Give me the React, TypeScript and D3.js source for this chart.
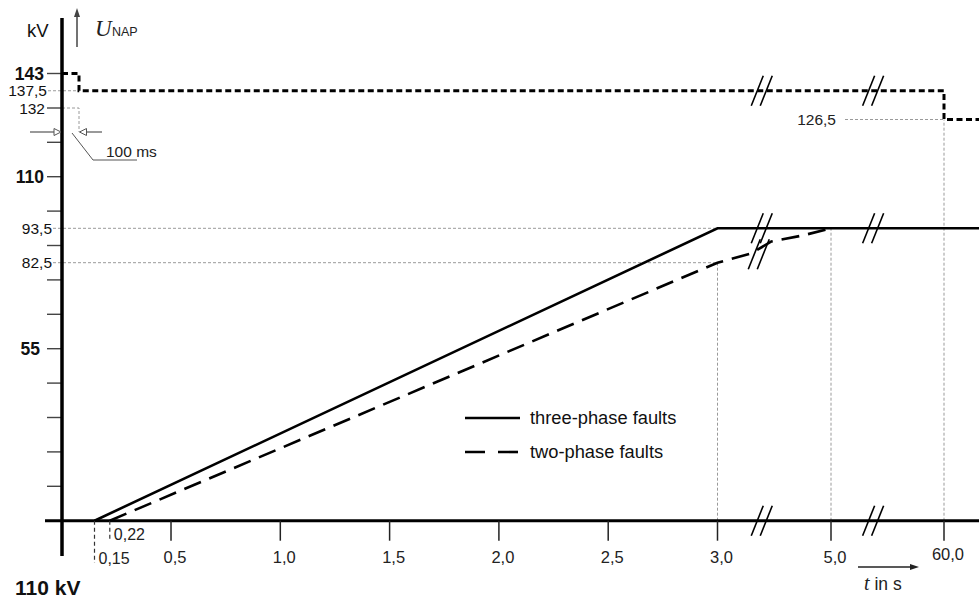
import React from "react";
import * as d3 from "d3";

const W = 979;
const H = 598;

// ---- data ----
const kvTicks = [11, 22, 33, 44, 55, 66, 77, 88, 99, 110, 121, 132, 143];
const kvLabelValues = [143, 137.5, 132, 110, 93.5, 82.5, 55];
const kvLabelTexts = ["143", "137,5", "132", "110", "93,5", "82,5", "55"];
const kvLabelBold = [true, false, false, true, false, false, true];
const timeTicks = [0.5, 1.0, 1.5, 2.0, 2.5, 3.0, 5.0, 60.0];
const timeTickLabels = ["0,5", "1,0", "1,5", "2,0", "2,5", "3,0", "5,0", "60,0"];
const startTimes = [0.15, 0.22];
const startTimeLabels = ["0,15", "0,22"];
const threePhaseT = [0.15, 3.0, 60.0];
const threePhaseU = [0, 93.5, 93.5];
const twoPhaseT = [0.22, 3.0, 3.6, 3.95, 4.5, 5.0];
const twoPhaseU = [0, 82.5, 85.5, 89.3, 91.2, 93.5];
const limitT = [0, 0.1, 0.1, 60, 60];
const limitU = [143, 143, 137.5, 137.5, 126.5];
const breakTimes = [3.78, 25.5];
const legendLabels = ["three-phase faults", "two-phase faults"];

const SANS = "'Liberation Sans', Arial, Helvetica, sans-serif";
const SERIF = "'Liberation Serif', 'Times New Roman', serif";

export default function App() {
  // schematic (piecewise) scales, as in the drawing with axis breaks
  const x = d3
    .scaleLinear()
    .domain([0, 0.1, 0.15, 3, 5, 60])
    .range([62, 79, 94.5, 717.5, 831, 944]);
  const y = d3
    .scaleLinear()
    .domain([0, 121, 126.5, 132, 143])
    .range([520.7, 142.3, 119.5, 108, 73.5]);

  const y0 = y(0);
  const x0 = x(0);

  const line = d3
    .line<[number, number]>()
    .x((d) => d[0])
    .y((d) => d[1]);

  const threePts: [number, number][] = threePhaseT.map((t, i) => [x(t), y(threePhaseU[i])]);
  threePts.push([W, y(threePhaseU[threePhaseU.length - 1])]);
  const twoPts: [number, number][] = twoPhaseT.map((t, i) => [x(t), y(twoPhaseU[i])]);
  const limitPts: [number, number][] = limitT.map((t, i) => [x(t), y(limitU[i])]);
  limitPts.push([W, y(limitU[limitU.length - 1])]);

  const twoInterp = (t: number) => {
    for (let i = 0; i < twoPhaseT.length - 1; i++) {
      if (t >= twoPhaseT[i] && t <= twoPhaseT[i + 1]) {
        const f = (t - twoPhaseT[i]) / (twoPhaseT[i + 1] - twoPhaseT[i]);
        return twoPhaseU[i] + f * (twoPhaseU[i + 1] - twoPhaseU[i]);
      }
    }
    return null;
  };

  const breakMarks: { cx: number; cy: number }[] = [];
  breakTimes.forEach((b) => {
    breakMarks.push({ cx: x(b), cy: y0 });
    breakMarks.push({ cx: x(b), cy: y(137.5) });
    breakMarks.push({ cx: x(b), cy: y(93.5) });
    const v = twoInterp(b);
    if (v !== null) breakMarks.push({ cx: x(b) - 3, cy: y(v) + 7 });
  });

  const gray = "#9a9a9a";
  const guide = { stroke: gray, strokeWidth: 1, strokeDasharray: "3,2", fill: "none" };
  const ann = "#555";
  const arrowY = y(132) + 24;

  return (
    <svg
      width={W}
      height={H}
      style={{ position: "fixed", left: 0, top: 0, background: "#fff" }}
      fontFamily={SANS}
    >
      <rect x={0} y={0} width={W} height={H} fill="#fff" />

      {/* guide lines */}
      <line x1={48} x2={x(0.1)} y1={y(137.5)} y2={y(137.5)} {...guide} />
      <polyline
        points={`${x0},${y(132)} ${x(0.1)},${y(132)} ${x(0.1)},${arrowY}`}
        {...guide}
      />
      {[93.5, 82.5].map((v) => (
        <line key={v} x1={53} x2={x(3)} y1={y(v)} y2={y(v)} {...guide} />
      ))}
      <line x1={x(3)} x2={x(3)} y1={y0} y2={y(82.5)} {...guide} />
      <line x1={x(5)} x2={x(5)} y1={y0} y2={y(93.5)} {...guide} />
      <line x1={x(60)} x2={x(60)} y1={y0} y2={y(126.5)} {...guide} />
      <line x1={845} x2={x(60)} y1={y(126.5)} y2={y(126.5)} {...guide} />
      <text x={836} y={y(126.5)} dy="0.35em" textAnchor="end" fontSize={15.5} fill="#222">
        126,5
      </text>

      {/* y ticks */}
      {kvTicks.map((v) => (
        <line key={v} x1={47} x2={x0} y1={y(v)} y2={y(v)} stroke="#444" strokeWidth={1.4} />
      ))}
      {kvLabelValues.map((v, i) => {
        const bold = kvLabelBold[i];
        const isRef = v === 93.5 || v === 82.5;
        const endX = v === 55 ? 40 : isRef ? 52 : v === 137.5 ? 47 : v === 132 ? 45 : 44;
        return (
          <text
            key={v}
            x={endX}
            y={y(v)}
            dy="0.36em"
            textAnchor="end"
            fontSize={bold ? 17.5 : 15.5}
            fontWeight={bold ? "bold" : "normal"}
            fill="#111"
          >
            {kvLabelTexts[i]}
          </text>
        );
      })}

      {/* axes */}
      <line x1={x0} x2={x0} y1={18} y2={556} stroke="#000" strokeWidth={3.5} />
      <line x1={45} x2={W} y1={y0} y2={y0} stroke="#000" strokeWidth={3} />

      {/* x ticks */}
      {timeTicks.map((t, i) => (
        <g key={t}>
          <line x1={x(t)} x2={x(t)} y1={y0} y2={y0 + 20} stroke="#222" strokeWidth={1.5} />
          <text
            x={x(t) + 4}
            y={t === 60 ? 560 : 563}
            textAnchor="middle"
            fontSize={16.5}
            fill="#222"
          >
            {timeTickLabels[i]}
          </text>
        </g>
      ))}
      {startTimes.map((t, i) => (
        <g key={t}>
          <line
            x1={x(t)}
            x2={x(t)}
            y1={y0}
            y2={i === 0 ? 563 : 540}
            stroke="#333"
            strokeWidth={1.2}
            strokeDasharray="4,3"
          />
          <text x={x(t) + 4} y={i === 0 ? 564 : 540} fontSize={16} fill="#222">
            {startTimeLabels[i]}
          </text>
        </g>
      ))}

      {/* limit line */}
      <path
        d={line(limitPts) || ""}
        fill="none"
        stroke="#000"
        strokeWidth={3}
        strokeDasharray="6,3.5"
      />

      {/* series */}
      <path d={line(threePts) || ""} fill="none" stroke="#000" strokeWidth={2.6} />
      <path
        d={line(twoPts) || ""}
        fill="none"
        stroke="#000"
        strokeWidth={2.6}
        strokeDasharray="18,9"
      />

      {/* breaks */}
      {breakMarks.map((b, i) => (
        <g key={i} stroke="#000" strokeWidth={1.6}>
          {[-4.5, 4.5].map((o) => (
            <line key={o} x1={b.cx + o - 6} y1={b.cy + 15} x2={b.cx + o + 6} y2={b.cy - 15} />
          ))}
        </g>
      ))}

      {/* legend */}
      <line x1={465} x2={520} y1={418} y2={418} stroke="#000" strokeWidth={2.6} />
      <text x={530} y={418} dy="0.35em" fontSize={18.3} fill="#111">
        {legendLabels[0]}
      </text>
      <line
        x1={465}
        x2={520}
        y1={452}
        y2={452}
        stroke="#000"
        strokeWidth={2.6}
        strokeDasharray="20,13"
      />
      <text x={530} y={452} dy="0.35em" fontSize={18.3} fill="#111">
        {legendLabels[1]}
      </text>

      {/* y axis title */}
      <text x={27} y={37} fontSize={18.5} fill="#111">
        kV
      </text>
      <line x1={77} x2={77} y1={47} y2={15} stroke="#444" strokeWidth={1.5} />
      <polygon points="77,8 74,17 80,17" fill="#444" />
      <text x={95} y={36} fontFamily={SERIF} fontStyle="italic" fontSize={23} fill="#222">
        U
      </text>
      <text x={112} y={36} fontSize={12.5} fill="#222">
        NAP
      </text>

      {/* 100 ms annotation */}
      <line x1={30} x2={55} y1={arrowY} y2={arrowY} stroke={ann} strokeWidth={1.2} />
      <polygon
        points={`${x0 - 1},${arrowY} ${x0 - 8},${arrowY - 3.5} ${x0 - 8},${arrowY + 3.5}`}
        fill="#fff"
        stroke={ann}
        strokeWidth={1}
      />
      <line x1={102} x2={86} y1={arrowY} y2={arrowY} stroke={ann} strokeWidth={1.2} />
      <polygon
        points={`${x(0.1) + 0.5},${arrowY} ${x(0.1) + 7.5},${arrowY - 3.5} ${x(0.1) + 7.5},${arrowY + 3.5}`}
        fill="#fff"
        stroke={ann}
        strokeWidth={1}
      />
      <polyline
        points={`72,${arrowY + 1} 93,160 137,160`}
        fill="none"
        stroke={ann}
        strokeWidth={1}
      />
      <text x={106} y={157} fontSize={15.5} fill="#222">
        100 ms
      </text>

      {/* x axis title */}
      <line x1={858} x2={912} y1={567} y2={567} stroke="#222" strokeWidth={1.3} />
      <polygon points="919,567 910,564 910,570" fill="#222" />
      <text x={864} y={590} fill="#222">
        <tspan fontFamily={SERIF} fontStyle="italic" fontSize={20}>
          t
        </tspan>
        <tspan fontSize={17.5}> in s</tspan>
      </text>

      {/* bottom-left label */}
      <text x={15} y={595} fontSize={21} fontWeight="bold" fill="#111">
        110 kV
      </text>
    </svg>
  );
}
